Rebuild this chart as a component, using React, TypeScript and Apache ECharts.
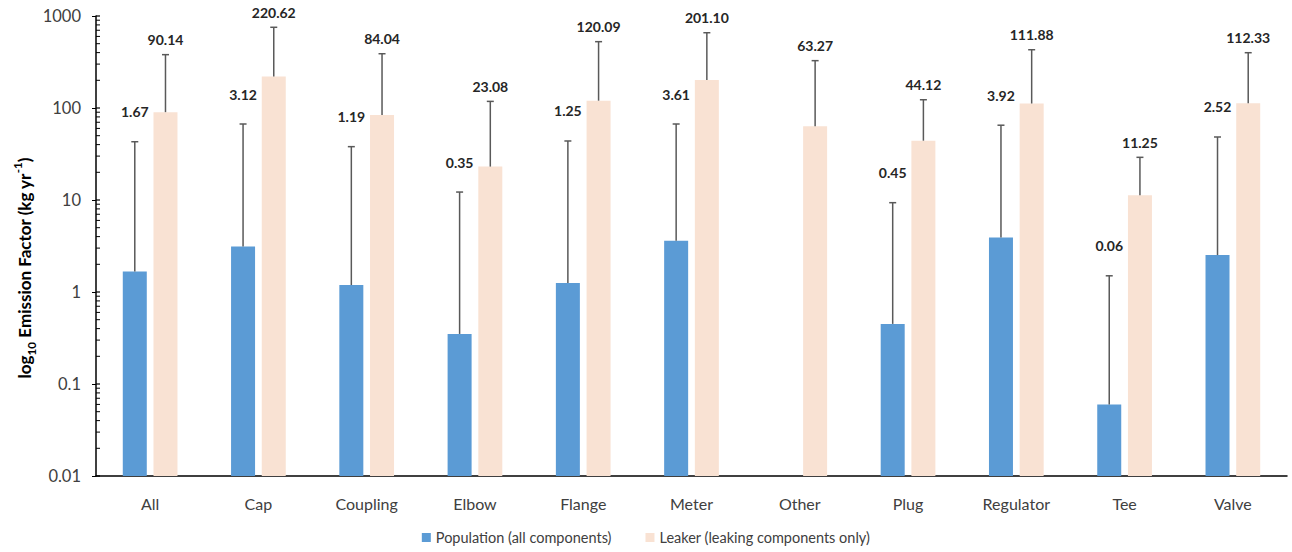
import React, { useEffect, useRef } from "react";
import * as echarts from "echarts";

const categories = ["All", "Cap", "Coupling", "Elbow", "Flange", "Meter", "Other", "Plug", "Regulator", "Tee", "Valve"];
const populationEF = [1.67, 3.12, 1.19, 0.35, 1.25, 3.61, null, 0.45, 3.92, 0.06, 2.52];
const leakerEF = [90.14, 220.62, 84.04, 23.08, 120.09, 201.1, 63.27, 44.12, 111.88, 11.25, 112.33];
const populationUpper = [43, 67, 38, 12.2, 43.8, 67, null, 9.35, 65, 1.5, 48.4];
const leakerUpper = [380, 754, 389, 118, 526, 658, 327, 123, 430, 29.1, 399];
const seriesNames = ["Population (all components)", "Leaker (leaking components only)"];
const seriesColors = ["#5B9BD5", "#F9E2D3"];

const FONT = "Lato, 'Open Sans', sans-serif";
const BAR_W = 24;
const BAR_GAP = 6.7;
const OFFSET = (BAR_W + BAR_GAP) / 2;
const ERR_COLOR = "#595959";

function barSeries(name: string, color: string, values: (number | null)[], dx: number) {
  const data = values.map((v, i) => (v == null ? [i, NaN] : [i, v]));
  return {
    name,
    type: "custom",
    itemStyle: { color },
    z: 2,
    data,
    encode: { x: 0, y: 1 },
    renderItem: (params: any, api: any) => {
      const i = api.value(0);
      const v = api.value(1);
      if (!isFinite(v)) return null;
      const p = api.coord([i, v]);
      const bottom = params.coordSys.y + params.coordSys.height;
      return {
        type: "rect",
        shape: { x: p[0] + dx - BAR_W / 2, y: p[1], width: BAR_W, height: bottom - p[1] },
        style: { fill: color },
      };
    },
  };
}

function errorSeries(values: (number | null)[], uppers: (number | null)[], dx: number, labelGap: number) {
  const data = values.map((v, i) => (v == null || uppers[i] == null ? [i, NaN, NaN] : [i, uppers[i], v]));
  return {
    type: "custom",
    silent: true,
    z: 5,
    clip: false,
    data,
    encode: { x: 0, y: 1 },
    renderItem: (params: any, api: any) => {
      const i = api.value(0);
      const top = api.value(1);
      const base = api.value(2);
      if (!isFinite(top) || !isFinite(base)) return null;
      const pb = api.coord([i, base]);
      const pt = api.coord([i, top]);
      const x = pb[0] + dx;
      return {
        type: "group",
        children: [
          { type: "line", shape: { x1: x, y1: pb[1], x2: x, y2: pt[1] }, style: { stroke: ERR_COLOR, lineWidth: 1.5 } },
          { type: "line", shape: { x1: x - 3.5, y1: pt[1], x2: x + 3.5, y2: pt[1] }, style: { stroke: ERR_COLOR, lineWidth: 1.5 } },
          {
            type: "text",
            x,
            y: pt[1] - labelGap,
            style: {
              text: base.toFixed(2),
              textAlign: "center",
              textVerticalAlign: "bottom",
              font: `bold 14px ${FONT}`,
              fill: "#262626",
            },
          },
        ],
      };
    },
  };
}

function minorTickSeries() {
  return {
    type: "custom",
    silent: true,
    clip: false,
    z: 6,
    data: [[0, 1]],
    encode: { x: 0, y: 1 },
    renderItem: (params: any, api: any) => {
      const x0 = params.coordSys.x;
      const children: any[] = [];
      for (let d = -2; d <= 3; d++) {
        const base = Math.pow(10, d);
        const y = api.coord([0, base])[1];
        children.push({ type: "line", shape: { x1: x0, y1: y, x2: x0 + 4, y2: y }, style: { stroke: "#000", lineWidth: 1.2 } });
        if (d < 3) {
          for (let k = 2; k <= 9; k++) {
            const ym = api.coord([0, k * base])[1];
            children.push({ type: "line", shape: { x1: x0, y1: ym, x2: x0 + 4, y2: ym }, style: { stroke: "#000", lineWidth: 1 } });
          }
        }
      }
      return { type: "group", children };
    },
  };
}

export default function App() {
  const ref = useRef<HTMLDivElement>(null);
  useEffect(() => {
    if (!ref.current) return;
    const chart = echarts.init(ref.current, undefined, { renderer: "svg" });
    chart.setOption({
      animation: false,
      backgroundColor: "#ffffff",
      textStyle: { fontFamily: FONT },
      grid: { left: 96, right: 5, top: 16, bottom: 76 },
      legend: {
        data: seriesNames.map((n, k) => ({ name: n, itemStyle: { color: seriesColors[k] } })),
        bottom: 2,
        left: "center",
        icon: "rect",
        itemWidth: 9,
        itemHeight: 9,
        itemGap: 34,
        textStyle: { fontSize: 14.5, color: "#404040", fontFamily: FONT },
      },
      xAxis: {
        type: "category",
        data: categories,
        axisTick: { show: false },
        axisLine: { lineStyle: { color: "#000", width: 1.5 } },
        axisLabel: { fontSize: 16, color: "#404040", margin: 19 },
      },
      yAxis: {
        type: "log",
        logBase: 10,
        min: 0.01,
        max: 1000,
        splitLine: { show: false },
        axisLine: { show: true, lineStyle: { color: "#000", width: 1.5 } },
        axisTick: { show: true, inside: false, length: 4, lineStyle: { color: "#000" } },
        axisLabel: {
          fontSize: 16.5,
          color: "#404040",
          margin: 15,
          formatter: (v: number) => String(+v.toPrecision(6)),
        },
      },
      graphic: [
        {
          type: "text",
          x: 24,
          y: 268,
          rotation: Math.PI / 2,
          style: {
            text: "{m|log}{sub|10}{m| Emission Factor (kg yr}{sup|-1}{m|)}",
            textAlign: "center",
            textVerticalAlign: "middle",
            rich: {
              m: { fontSize: 17, fontWeight: "bold", fontFamily: FONT, fill: "#000", lineHeight: 26 },
              sub: { fontSize: 11.5, fontWeight: "bold", fontFamily: FONT, fill: "#000", lineHeight: 14, verticalAlign: "bottom" },
              sup: { fontSize: 11.5, fontWeight: "bold", fontFamily: FONT, fill: "#000", lineHeight: 14, verticalAlign: "top" },
            },
          },
        },
      ],
      series: [
        barSeries(seriesNames[0], seriesColors[0], populationEF, -OFFSET),
        barSeries(seriesNames[1], seriesColors[1], leakerEF, OFFSET),
        errorSeries(populationEF, populationUpper, -OFFSET, 23),
        errorSeries(leakerEF, leakerUpper, OFFSET, 8),
        minorTickSeries(),
      ],
    });
    return () => chart.dispose();
  }, []);
  return <div ref={ref} style={{ position: "fixed", left: 0, top: 0, width: 1292, height: 552 }} />;
}
